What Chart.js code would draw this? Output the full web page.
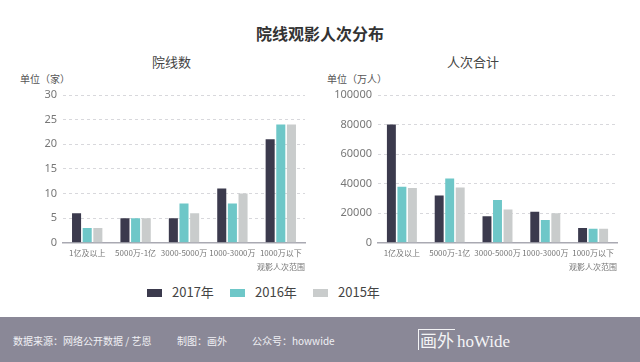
<!DOCTYPE html>
<html><head><meta charset="utf-8">
<script src="https://cdn.jsdelivr.net/npm/chart.js@4.4.1/dist/chart.umd.min.js"></script>
<style>
html,body{margin:0;padding:0;background:#fff;}
body{width:640px;height:362px;position:relative;overflow:hidden;font-family:"Noto Sans CJK SC","Noto Sans",sans-serif;}
.abs{position:absolute;white-space:nowrap;}
#title{left:0;width:640px;top:21px;text-align:center;font-size:16px;font-weight:bold;color:#333;}
.sub{font-size:13px;color:#444;top:52px;}
.unit{font-size:10px;color:#555;top:71px;}
#footer{left:0;top:317px;width:640px;height:45px;background:#8a8897;}
.ft{font-size:10px;color:#f0f0f4;top:333px;}
.leg{top:282px;font-size:13px;color:#444;}
.box{position:absolute;width:15px;height:8px;top:289px;}
</style></head><body>
<div class="abs" id="title">院线观影人次分布</div>
<div class="abs sub" style="left:152px;">院线数</div>
<div class="abs sub" style="left:447px;">人次合计</div>
<div class="abs unit" style="left:20px;">单位（家）</div>
<div class="abs unit" style="left:327px;">单位（万人）</div>
<div class="abs" style="left:0;top:80px;width:320px;height:192px;"><canvas id="c1"></canvas></div>
<div class="abs" style="left:320px;top:80px;width:320px;height:192px;"><canvas id="c2"></canvas></div>
<div id="legend"></div>
<div class="abs" id="footer"></div>
<div class="abs ft" style="left:13px;">数据来源：网络公开数据 / 艺恩</div>
<div class="abs ft" style="left:177px;">制图：画外</div>
<div class="abs ft" style="left:252px;">公众号：howwide</div>
<div class="abs" style="left:418px;top:328px;color:#f4f4f6;">
  <span style="display:inline-block;border:1.2px solid #f4f4f6;border-right:none;border-bottom:none;font-size:17px;line-height:20px;padding:0 1px;">画外</span><span style="font-family:'Liberation Serif',serif;font-size:17px;margin-left:2px;">hoWide</span>
</div>
<script>
const categories = ['1亿及以上','5000万-1亿','3000-5000万','1000-3000万','1000万以下'];
const seriesNames = ['2017年','2016年','2015年'];
const colors = ['#3b3a4d','#6ec7c8','#c9cccc'];
const theaters2017 = [6,5,5,11,21];
const theaters2016 = [3,5,8,8,24];
const theaters2015 = [3,5,6,10,24];
const viewers2017 = [80000,32000,18000,21000,10000];
const viewers2016 = [38000,43500,29000,15500,9500];
const viewers2015 = [37000,37500,22500,20000,9500];
const ticks1 = [0,5,10,15,20,25,30];
const ticks2 = [0,20000,40000,60000,80000,100000];

// legend
const legPos=[[147,172],[230,255],[313,338]];
const leg=document.getElementById('legend');
seriesNames.forEach((n,i)=>{
  const b=document.createElement('div');b.className='box';b.style.left=legPos[i][0]+'px';b.style.background=colors[i];leg.appendChild(b);
  const t=document.createElement('div');t.className='abs leg';t.style.left=legPos[i][1]+'px';t.textContent=n;leg.appendChild(t);
});

function makeChart(id, sets, yTicks, yWidth, padRight){
  const max=yTicks[yTicks.length-1];
  return new Chart(document.getElementById(id),{
    type:'bar',
    data:{labels:categories,datasets:sets.map((d,i)=>({label:seriesNames[i],data:d,backgroundColor:colors[i],barPercentage:0.85,categoryPercentage:0.66}))},
    options:{
      responsive:true,maintainAspectRatio:false,animation:false,
      layout:{padding:{top:15,right:padRight,left:0,bottom:0}},
      plugins:{legend:{display:false},tooltip:{enabled:false}},
      scales:{
        x:{grid:{display:false,drawTicks:false},border:{display:true,color:'#a9a9b2',width:1.5},
           ticks:{color:'#777',font:{size:8,family:'"Noto Sans CJK SC"'},padding:5,maxRotation:0,autoSkip:false},
           title:{display:true,text:'观影人次范围',align:'end',color:'#777',font:{size:8,family:'"Noto Sans CJK SC"'},padding:{top:0,bottom:0}}},
        y:{min:0,max:max,afterFit:(s)=>{s.width=yWidth;},
           afterBuildTicks:(s)=>{s.ticks=yTicks.map(v=>({value:v}));},
           border:{display:false,dash:[3,3]},
           grid:{color:(c)=>c.tick&&c.tick.value===0?'rgba(0,0,0,0)':'#d8d8dc',drawTicks:false},
           ticks:{color:'#777',font:{size:11,family:'"Noto Sans","Noto Sans CJK SC"'},padding:6,callback:(v)=>String(v)}}
      }
    }
  });
}
makeChart('c1',[theaters2017,theaters2016,theaters2015],ticks1,63,15);
makeChart('c2',[viewers2017,viewers2016,viewers2015],ticks2,58,23);
</script>
</body></html>
